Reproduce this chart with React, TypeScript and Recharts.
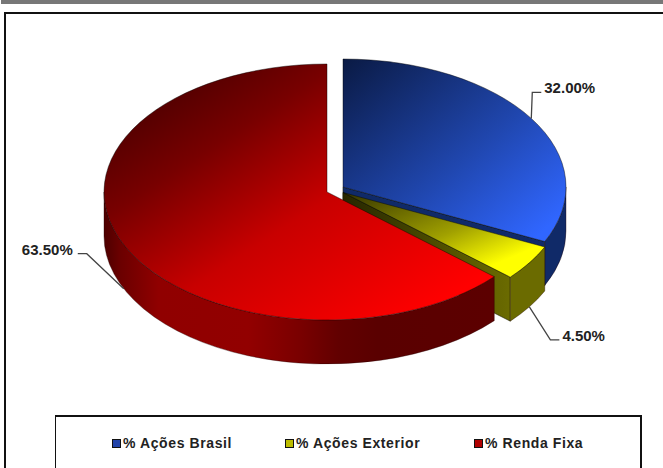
import React from "react";
import { PieChart, Pie, Cell, Legend } from "recharts";

const NAMES = ["% Ações Brasil", "% Ações Exterior", "% Renda Fixa"];
const VALUES = [32.0, 4.5, 63.5];

const data = NAMES.map((name, i) => ({ name, value: VALUES[i] }));

const TILT = 0.574;
const DEPTH = 44;

// look of each slice: how far it is pulled out, colours, leader line
const LOOK: Record<string, any> = {
  "% Ações Brasil": {
    id: "br", dx: 16, dy: -5, legend: "#2244aa", wall: "#102a68", cut: "#102a68",
    stops: [[0, "#0a1a44"], [0.55, "#2047b0"], [0.92, "#3066ff"]],
    line: [1, -26, 9], anchor: "start",
  },
  "% Ações Exterior": {
    id: "ex", dx: 16, dy: 0.5, legend: "#bdbd00", wall: "#6b6b00", cut: "url(#exCut)",
    stops: [[0, "#333300"], [0.5, "#a0a000"], [0.8, "#ffff00"]],
    line: [21, 33, 9], anchor: "start",
  },
  "% Renda Fixa": {
    id: "rf", dx: 0, dy: 0, legend: "#b00000", wall: "url(#rfWall)", cut: "none",
    stops: [[0.12, "#4e0000"], [0.3, "#780000"], [0.55, "#c80000"], [0.9, "#ff0000"]],
    line: [-37, -35, -9], anchor: "end",
  },
};

const pt = (cx: number, cy: number, r: number, deg: number) => {
  const a = (deg * Math.PI) / 180;
  return [cx + r * Math.cos(a), cy - r * TILT * Math.sin(a)];
};

function Slice3D(props: any) {
  const { cx, cy, outerRadius: r, startAngle, endAngle, name } = props;
  const look = LOOK[name];
  const x = cx + look.dx;
  const y = cy + look.dy;
  const ry = r * TILT;
  const [sx, sy] = pt(x, y, r, startAngle);
  const [ex, ey] = pt(x, y, r, endAngle);
  const large = startAngle - endAngle > 180 ? 1 : 0;
  const top = `M${x},${y} L${sx},${sy} A${r},${ry} 0 ${large} 1 ${ex},${ey} Z`;

  // only the front half of the rim can be seen
  const w0 = Math.min(startAngle, 0);
  const w1 = Math.max(endAngle, -180);
  const [ax, ay] = pt(x, y, r, w0);
  const [bx, by] = pt(x, y, r, w1);
  const wall = `M${ax},${ay} A${r},${ry} 0 0 1 ${bx},${by} L${bx},${by + DEPTH} A${r},${ry} 0 0 0 ${ax},${ay + DEPTH} Z`;
  const cut = `M${x},${y} L${ex},${ey} L${ex},${ey + DEPTH} L${x},${y + DEPTH} Z`;

  return (
    <g>
      {look.cut !== "none" && <path d={cut} fill={look.cut} stroke="#1a1a00" strokeWidth={0.6} />}
      <path d={wall} fill={look.wall} stroke="#200" strokeOpacity={0.6} strokeWidth={0.6} />
      <path d={top} fill={`url(#${look.id}Top)`} stroke="#000" strokeOpacity={0.7} strokeWidth={0.6} />
    </g>
  );
}

function renderLabel(props: any) {
  const { cx, cy, outerRadius: r, midAngle, value, name } = props;
  const look = LOOK[name];
  const [px, py0] = pt(cx + look.dx, cy + look.dy, r, midAngle);
  const py = Math.sin((midAngle * Math.PI) / 180) < 0 ? py0 + DEPTH : py0;
  const [d1, d2, d3] = look.line;
  const ex = px + d1;
  const ey = py + d2;
  const tx = ex + d3;
  return (
    <g>
      <polyline
        points={`${px},${py} ${ex},${ey} ${tx},${ey}`}
        fill="none"
        stroke="#444"
        strokeWidth={1.3}
      />
      <text
        x={tx + (look.anchor === "start" ? 3 : -5)}
        y={ey + 1}
        textAnchor={look.anchor}
        fontFamily="'Liberation Sans', Arial, sans-serif"
        fontWeight="bold"
        fontSize={15}
        fill="#222"
      >
        {value.toFixed(2)}%
      </text>
    </g>
  );
}

function LegendBox({ payload }: any) {
  return (
    <div
      style={{
        position: "relative",
        height: 60,
        boxSizing: "border-box",
        border: "1px solid #111",
        borderTopWidth: 2,
        borderRightWidth: 2,
        fontFamily: "'Liberation Sans', Arial, sans-serif",
        fontWeight: "bold",
        fontSize: 14,
        letterSpacing: 0.6,
        color: "#222",
      }}
    >
      {(payload || []).map((p: any, i: number) => (
        <div
          key={p.value}
          style={{
            position: "absolute",
            left: [56, 229, 418][i],
            top: 18,
            display: "flex",
            alignItems: "center",
            whiteSpace: "nowrap",
          }}
        >
          <span
            style={{
              width: 7,
              height: 7,
              marginRight: 2,
              background: LOOK[p.value].legend,
              border: "1px solid #111",
            }}
          />
          {p.value}
        </div>
      ))}
    </div>
  );
}

export default function App() {
  return (
    <div
      style={{
        position: "absolute",
        left: 0,
        top: 0,
        width: 663,
        height: 468,
        overflow: "hidden",
        background: "#fff",
      }}
    >
      <div style={{ position: "absolute", left: 1, top: 0, width: 662, height: 4, background: "#777" }} />
      <div
        style={{
          position: "absolute",
          left: 4,
          top: 12,
          width: 670,
          height: 470,
          borderTop: "2px solid #111",
          borderLeft: "2px solid #111",
        }}
      />
      <PieChart
        width={663}
        height={468}
        margin={{ top: 0, right: 0, bottom: 0, left: 0 }}
        style={{ position: "absolute", left: 0, top: 0 }}
      >
        <defs>
          {NAMES.map((n) => (
            <linearGradient key={n} id={`${LOOK[n].id}Top`} x1="0" y1="0" x2="1" y2="1">
              {LOOK[n].stops.map(([o, c]: any) => (
                <stop key={o} offset={o} stopColor={c} />
              ))}
            </linearGradient>
          ))}
          <linearGradient id="rfWall" x1="0" y1="0" x2="1" y2="0">
            <stop offset="0" stopColor="#4d0000" />
            <stop offset="0.04" stopColor="#6a0000" />
            <stop offset="0.14" stopColor="#900000" />
            <stop offset="0.37" stopColor="#920000" />
            <stop offset="0.5" stopColor="#7a0000" />
            <stop offset="0.6" stopColor="#620000" />
            <stop offset="0.7" stopColor="#5a0000" />
            <stop offset="1" stopColor="#5c0000" />
          </linearGradient>
          <linearGradient id="exCut" x1="0" y1="0" x2="1" y2="0">
            <stop offset="0" stopColor="#262600" />
            <stop offset="1" stopColor="#6b6b00" />
          </linearGradient>
        </defs>
        <Pie
          data={data}
          dataKey="value"
          nameKey="name"
          cx={327}
          cy={192}
          outerRadius={223}
          startAngle={90}
          endAngle={-270}
          stroke="none"
          shape={Slice3D}
          label={renderLabel}
          labelLine={false}
          isAnimationActive={false}
        >
          {NAMES.map((n) => (
            <Cell key={n} fill={LOOK[n].legend} />
          ))}
        </Pie>
        <Legend
          content={<LegendBox />}
          wrapperStyle={{ position: "absolute", left: 55, top: 415, width: 587, height: 60, bottom: "auto" }}
        />
      </PieChart>
    </div>
  );
}
